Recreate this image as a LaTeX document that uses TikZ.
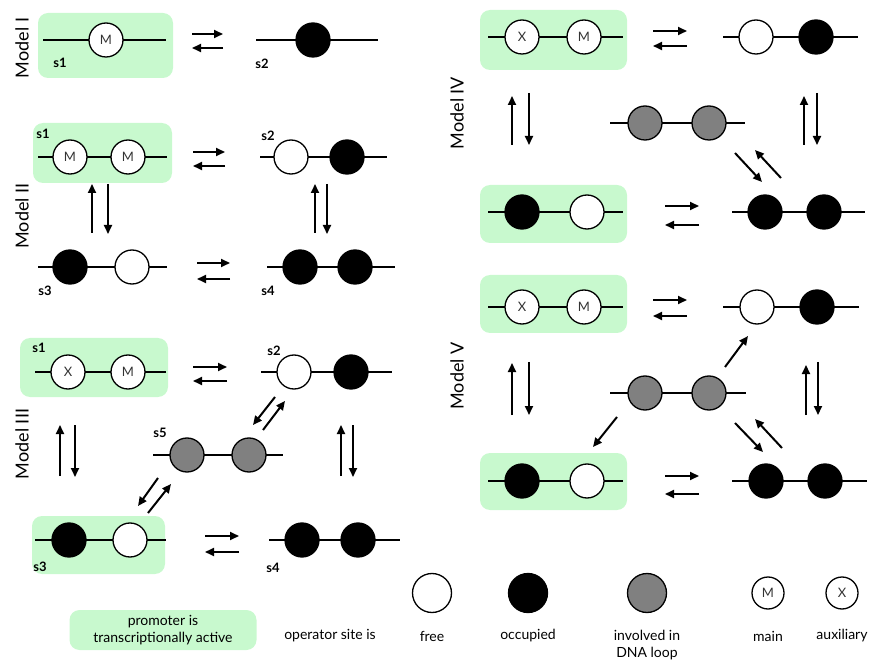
\documentclass[tikz,border=0pt]{standalone}
\usepackage{fontspec}
\setmainfont{Lato}
\setsansfont{Lato}
\usetikzlibrary{arrows.meta}
\definecolor{activegreen}{RGB}{200,249,206}
\definecolor{loopgrey}{RGB}{128,128,128}

\begin{document}
\begin{tikzpicture}[x=1pt, y=-1pt, font=\sffamily]
	% Styles for operator sites, DNA and reactions
	\tikzset{dna/.style={line width=2pt}}
	\tikzset{free/.style={circle, draw, line width=1.3pt, fill=white, minimum size=34pt, inner sep=0pt, text=black!80, font=\sffamily\fontsize{13}{13}\selectfont}}
	\tikzset{occ/.style={free, fill=black}}
	\tikzset{looped/.style={free, fill=loopgrey}}
	\tikzset{active/.style={fill=activegreen, rounded corners=10pt}}
	\tikzset{rxn/.style={line width=2pt, -{Triangle[length=9pt, width=8pt]}}}
	\tikzset{state/.style={font=\sffamily\bfseries\fontsize{13}{13}\selectfont}}
	\tikzset{model/.style={rotate=90, font=\sffamily\fontsize{18}{18}\selectfont}}
	\tikzset{legend/.style={align=center, font=\sffamily\fontsize{14}{17}\selectfont}}
	\useasboundingbox (0,0) rectangle (871,663);

	% --- Model I ---
	\node[model] (mI) at (22,48) {Model I};
	\fill[active] (38,13) rectangle (173,78);
	\draw[dna] (43,40) -- (166,40);
	\node[free] (mIa) at (106,40) {M};
	\node[state] (mIs1) at (60,63) {s1};
	\draw[rxn] (192,34) -- (223,34);
	\draw[rxn] (223,48) -- (192,48);
	\draw[dna] (256,40) -- (378,40);
	\node[occ] (mIb) at (313,40) {};
	\node[state] (mIs2) at (262,64) {s2};

	% --- Model II ---
	\node[model] (mII) at (22,216) {Model II};
	\fill[active] (33,123) rectangle (172,183);
	\draw[dna] (38,157) -- (167,157);
	\node[free] (mIIa) at (70,157) {M};
	\node[free] (mIIb) at (128,157) {M};
	\node[state] (mIIs1) at (43,134) {s1};
	\draw[rxn] (193,152) -- (225,152);
	\draw[rxn] (225,166) -- (193,166);
	\draw[dna] (260,157) -- (387,157);
	\node[free] (mIIc) at (291,157) {};
	\node[occ] (mIId) at (347,157) {};
	\node[state] (mIIs2) at (268,136) {s2};
	\draw[rxn] (92,233) -- (92,184);
	\draw[rxn] (108,184) -- (108,234);
	\draw[rxn] (315,233) -- (315,184);
	\draw[rxn] (327,184) -- (327,234);
	\draw[dna] (38,267) -- (167,267);
	\node[occ] (mIIe) at (70,267) {};
	\node[free] (mIIf) at (132,267) {};
	\node[state] (mIIs3) at (45,291) {s3};
	\draw[rxn] (197,263) -- (230,263);
	\draw[rxn] (230,279) -- (197,279);
	\draw[dna] (267,267) -- (395,267);
	\node[occ] (mIIg) at (300,267) {};
	\node[occ] (mIIh) at (355,267) {};
	\node[state] (mIIs4) at (268,291) {s4};

	% --- Model III ---
	\node[model] (mIII) at (22,444) {Model III};
	\fill[active] (20,338) rectangle (168,397);
	\draw[dna] (35,372) -- (166,372);
	\node[free] (mIIIa) at (68,372) {X};
	\node[free] (mIIIb) at (128,372) {M};
	\node[state] (mIIIs1) at (39,348) {s1};
	\draw[rxn] (193,367) -- (227,367);
	\draw[rxn] (227,381) -- (193,381);
	\draw[dna] (261,372) -- (392,372);
	\node[free] (mIIIc) at (294,372) {};
	\node[occ] (mIIId) at (351,372) {};
	\node[state] (mIIIs2) at (274,351) {s2};
	\draw[rxn] (275,397) -- (253,425);
	\draw[rxn] (263,430) -- (285,401);
	\draw[rxn] (60,476) -- (60,425);
	\draw[rxn] (75,425) -- (75,477);
	\draw[dna] (153,455) -- (283,455);
	\node[looped] (mIIIe) at (187,455) {};
	\node[looped] (mIIIf) at (249,455) {};
	\node[state] (mIIIs5) at (160,433) {s5};
	\draw[rxn] (341,476) -- (341,425);
	\draw[rxn] (353,425) -- (353,477);
	\draw[rxn] (158,478) -- (138,506);
	\draw[rxn] (148,513) -- (171,484);
	\fill[active] (32,516) rectangle (165,574);
	\draw[dna] (35,540) -- (166,540);
	\node[occ] (mIIIg) at (69,540) {};
	\node[free] (mIIIh) at (130,540) {};
	\node[state] (mIIIs3) at (40,567) {s3};
	\draw[rxn] (205,536) -- (239,536);
	\draw[rxn] (239,552) -- (205,552);
	\draw[dna] (269,540) -- (400,540);
	\node[occ] (mIIIi) at (302,540) {};
	\node[occ] (mIIIj) at (358,540) {};
	\node[state] (mIIIs4) at (273,568) {s4};

	% --- Model IV ---
	\node[model] (mIV) at (457,113) {Model IV};
	\fill[active] (480,10) rectangle (627,70);
	\draw[dna] (488,37) -- (623,37);
	\node[free] (mIVa) at (522,37) {X};
	\node[free] (mIVb) at (584,37) {M};
	\draw[rxn] (653,31) -- (687,31);
	\draw[rxn] (687,46) -- (653,46);
	\draw[dna] (723,37) -- (858,37);
	\node[free] (mIVc) at (756,37) {};
	\node[occ] (mIVd) at (816,37) {};
	\draw[rxn] (512,145) -- (512,96);
	\draw[rxn] (529,93) -- (529,145);
	\draw[dna] (610,123) -- (745,123);
	\node[looped] (mIVe) at (645,123) {};
	\node[looped] (mIVf) at (709,123) {};
	\draw[rxn] (804,145) -- (804,96);
	\draw[rxn] (817,93) -- (817,145);
	\draw[rxn] (735,153) -- (762,182);
	\draw[rxn] (781,178) -- (755,150);
	\fill[active] (480,185) rectangle (627,243);
	\draw[dna] (488,212) -- (623,212);
	\node[occ] (mIVg) at (522,212) {};
	\node[free] (mIVh) at (587,212) {};
	\draw[rxn] (665,206) -- (699,206);
	\draw[rxn] (699,225) -- (665,225);
	\draw[dna] (732,212) -- (865,212);
	\node[occ] (mIVi) at (765,212) {};
	\node[occ] (mIVj) at (824,212) {};

	% --- Model V ---
	\node[model] (mV) at (457,376) {Model V};
	\fill[active] (480,275) rectangle (627,333);
	\draw[dna] (488,307) -- (623,307);
	\node[free] (mVa) at (522,307) {X};
	\node[free] (mVb) at (584,307) {M};
	\draw[rxn] (653,300) -- (687,300);
	\draw[rxn] (687,316) -- (653,316);
	\draw[dna] (723,307) -- (859,307);
	\node[free] (mVc) at (757,307) {};
	\node[occ] (mVd) at (817,307) {};
	\draw[rxn] (725,367) -- (748,336);
	\draw[rxn] (512,415) -- (512,363);
	\draw[rxn] (529,362) -- (529,415);
	\draw[dna] (610,393) -- (746,393);
	\node[looped] (mVe) at (645,393) {};
	\node[looped] (mVf) at (709,393) {};
	\draw[rxn] (806,415) -- (806,365);
	\draw[rxn] (818,362) -- (818,415);
	\draw[rxn] (617,417) -- (593,447);
	\draw[rxn] (735,423) -- (763,452);
	\draw[rxn] (782,448) -- (755,419);
	\fill[active] (480,453) rectangle (627,510);
	\draw[dna] (488,481) -- (623,481);
	\node[occ] (mVg) at (522,481) {};
	\node[free] (mVh) at (587,481) {};
	\draw[rxn] (665,476) -- (699,476);
	\draw[rxn] (699,494) -- (665,494);
	\draw[dna] (732,481) -- (867,481);
	\node[occ] (mVi) at (766,481) {};
	\node[occ] (mVj) at (825,481) {};

	% --- Legend ---
	\node[legend, active, minimum width=187pt, minimum height=40pt] (keyact) at (163,630) {promoter is\\transcriptionally active};
	\node[legend] (keyop) at (330,636) {operator site is};
	\node[free, minimum size=39pt] (keyfree) at (432,593) {};
	\node[legend] (keyfreet) at (432,636) {free};
	\node[occ, minimum size=39pt] (keyocc) at (528,593) {};
	\node[legend] (keyocct) at (528,636) {occupied};
	\node[looped, minimum size=39pt] (keyloop) at (647,593) {};
	\node[legend, anchor=north] (keyloopt) at (647,627) {involved in\\DNA loop};
	\node[free, minimum size=32pt] (keymain) at (768,593) {M};
	\node[legend] (keymaint) at (768,636) {main};
	\node[free, minimum size=32pt] (keyaux) at (842,593) {X};
	\node[legend] (keyauxt) at (842,636) {auxiliary};
\end{tikzpicture}
\end{document}
